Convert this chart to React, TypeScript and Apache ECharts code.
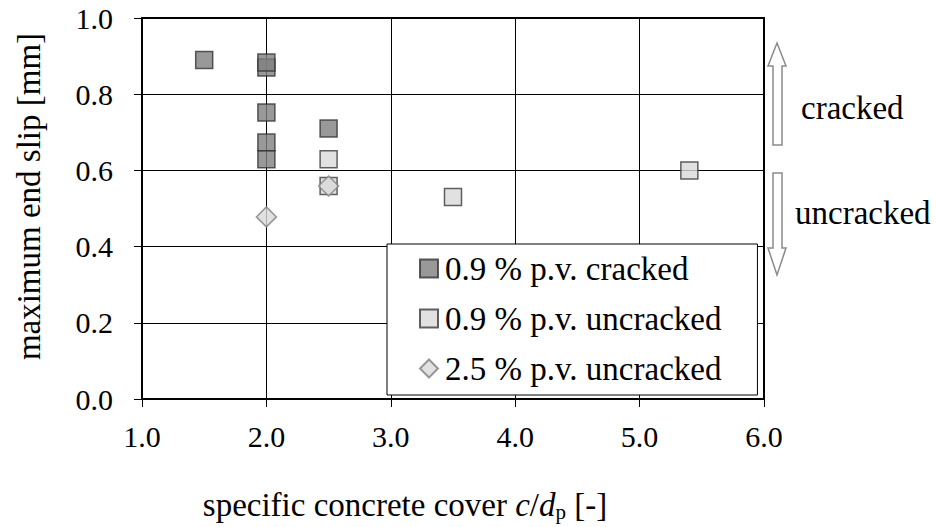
import React, { useEffect, useRef } from "react";
import * as echarts from "echarts";

const xTicks = [1, 2, 3, 4, 5, 6];
const yTicks = [0, 0.2, 0.4, 0.6, 0.8, 1.0];

const crackedX = [1.5, 2.0, 2.0, 2.0, 2.0, 2.0, 2.5];
const crackedY = [0.89, 0.87, 0.883, 0.752, 0.673, 0.629, 0.71];

const uncrackedX = [2.5, 2.5, 3.5, 5.4];
const uncrackedY = [0.629, 0.559, 0.53, 0.6];

const diamondX = [2.0, 2.5];
const diamondY = [0.478, 0.559];

const seriesNames = ["0.9 % p.v. cracked", "0.9 % p.v. uncracked", "2.5 % p.v. uncracked"];

const FONT = "Liberation Serif";

function zip(xs: number[], ys: number[]) {
  return xs.map((x, i) => [x, ys[i]]);
}

export default function App() {
  const ref = useRef<HTMLDivElement>(null);
  useEffect(() => {
    if (!ref.current) return;
    const chart = echarts.init(ref.current, undefined, { renderer: "svg" });
    const arrowStyle = { fill: "#fff", stroke: "#8a8a8a", lineWidth: 1.5 };
    chart.setOption({
      animation: false,
      backgroundColor: "#fff",
      textStyle: { fontFamily: FONT },
      grid: {
        left: 142,
        right: 172,
        top: 18,
        bottom: 126,
        show: true,
        borderColor: "#000",
        borderWidth: 2,
        backgroundColor: "transparent",
      },
      legend: {
        orient: "vertical",
        left: 387,
        top: 244,
        backgroundColor: "#fff",
        borderColor: "#000",
        borderWidth: 1,
        borderRadius: 0,
        padding: [8, 36, 10, 32],
        itemWidth: 18,
        itemHeight: 18,
        itemGap: 17,
        textStyle: { fontFamily: FONT, fontSize: 33, color: "#000", lineHeight: 32, padding: [0, 0, 0, 2] },
        data: seriesNames,
      },
      xAxis: {
        type: "value",
        min: 1,
        max: 6,
        interval: 1,
        name: "specific concrete cover {i|c}/{i|d}{sub|p} [-]",
        nameLocation: "middle",
        nameGap: 88,
        nameTextStyle: {
          fontFamily: FONT,
          fontSize: 33,
          color: "#000",
          padding: [0, 96, 0, 0],
          rich: {
            i: { fontFamily: FONT, fontSize: 33, fontStyle: "italic", color: "#000" },
            sub: { fontFamily: FONT, fontSize: 21, color: "#000", padding: [14, 0, 0, 0] },
          },
        },
        axisLine: { show: true, lineStyle: { color: "#000", width: 2 } },
        axisTick: { show: true, inside: false, length: 8, lineStyle: { color: "#000", width: 1 } },
        splitLine: { show: true, lineStyle: { color: "#000", width: 1 } },
        axisLabel: {
          fontFamily: FONT,
          fontSize: 30,
          color: "#000",
          margin: 22,
          formatter: (v: number) => (xTicks.includes(v) ? v.toFixed(1) : ""),
        },
      },
      yAxis: {
        type: "value",
        min: 0,
        max: 1,
        interval: 0.2,
        name: "maximum end slip [mm]",
        nameLocation: "middle",
        nameGap: 97,
        nameTextStyle: { fontFamily: FONT, fontSize: 33, color: "#000", padding: [0, 0, 0, 24] },
        axisLine: { show: true, lineStyle: { color: "#000", width: 2 } },
        axisTick: { show: true, inside: false, length: 8, lineStyle: { color: "#000", width: 1 } },
        splitLine: { show: true, lineStyle: { color: "#000", width: 1 } },
        axisLabel: {
          fontFamily: FONT,
          fontSize: 30,
          color: "#000",
          margin: 29,
          formatter: (v: number) => {
            const t = yTicks.find((y) => Math.abs(y - v) < 1e-6);
            return t === undefined ? "" : t.toFixed(1);
          },
        },
      },
      series: [
        {
          name: seriesNames[0],
          type: "scatter",
          symbol: "rect",
          symbolSize: 17,
          itemStyle: { color: "#7f7f7f", borderColor: "#333", borderWidth: 1.5 },
          data: zip(crackedX, crackedY),
          z: 3,
        },
        {
          name: seriesNames[1],
          type: "scatter",
          symbol: "rect",
          symbolSize: 17,
          itemStyle: { color: "#d9d9d9", borderColor: "#3a3a3a", borderWidth: 1.5 },
          data: zip(uncrackedX, uncrackedY),
          z: 3,
        },
        {
          name: seriesNames[2],
          type: "scatter",
          symbol: "diamond",
          symbolSize: 20,
          itemStyle: { color: "#d9d9d9", borderColor: "#7f7f7f", borderWidth: 1.5 },
          data: zip(diamondX, diamondY),
          z: 4,
        },
      ],
      graphic: [
        {
          type: "polygon",
          shape: {
            points: [
              [777, 43], [786, 66], [782, 66], [782, 145], [773, 145], [773, 66], [768, 66],
            ],
          },
          style: arrowStyle,
        },
        {
          type: "polygon",
          shape: {
            points: [
              [773, 173], [782, 173], [782, 248], [786, 248], [777, 275], [768, 248], [773, 248],
            ],
          },
          style: arrowStyle,
        },
        {
          type: "text",
          x: 801,
          y: 108,
          style: { text: "cracked", fontFamily: FONT, fontSize: 33, fill: "#000", verticalAlign: "middle" },
        },
        {
          type: "text",
          x: 795,
          y: 213,
          style: { text: "uncracked", fontFamily: FONT, fontSize: 33, fill: "#000", verticalAlign: "middle" },
        },
      ],
    });
    return () => chart.dispose();
  }, []);
  return (
    <div
      ref={ref}
      style={{ position: "fixed", left: 0, top: 0, width: 936, height: 527 }}
    />
  );
}
